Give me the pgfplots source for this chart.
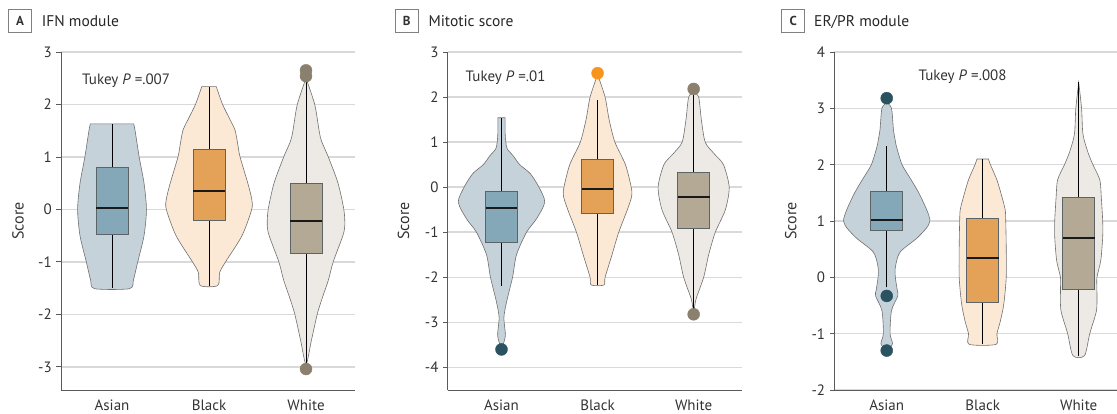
\documentclass[border=0pt]{standalone}
\usepackage{fontspec}
\setmainfont{PT Sans}
\usepackage{pgfplots}
\usepackage{pgfplotstable}
\pgfplotsset{compat=1.18}

\definecolor{gridgray}{HTML}{D9D9D9}
\definecolor{axisgray}{HTML}{5A5A5A}
\definecolor{textgray}{HTML}{333333}
\definecolor{vline}{HTML}{707070}
\definecolor{boxedge}{HTML}{5C6468}
\definecolor{asV}{HTML}{C6D2D9}
\definecolor{asB}{HTML}{84A8B8}
\definecolor{asO}{HTML}{2A5261}
\definecolor{blV}{HTML}{FBE9D5}
\definecolor{blB}{HTML}{E4A258}
\definecolor{blO}{HTML}{F7941E}
\definecolor{whV}{HTML}{EDEAE6}
\definecolor{whB}{HTML}{B4A995}
\definecolor{whO}{HTML}{8B7F6D}

% violin outlines: y, half-width w (axis units), side s (right side top->bottom, then left side bottom->top)
\pgfplotstableread{
y w s
1.63 0.224 1
1.5 0.238 1
1.0 0.28 1
0.5 0.33 1
0.0 0.355 1
-0.5 0.33 1
-1.0 0.265 1
-1.2 0.24 1
-1.35 0.22 1
-1.51 0.18 1
-1.51 0.18 -1
-1.35 0.22 -1
-1.2 0.24 -1
-1.0 0.265 -1
-0.5 0.33 -1
0.0 0.355 -1
0.5 0.33 -1
1.0 0.28 -1
1.5 0.238 -1
1.63 0.224 -1
}\vAa
\pgfplotstableread{
y w s
2.34 0.075 1
2.0 0.14 1
1.7 0.22 1
1.5 0.27 1
1.2 0.30 1
1.0 0.32 1
0.5 0.40 1
0.2 0.44 1
0.0 0.44 1
-0.5 0.34 1
-1.0 0.17 1
-1.2 0.11 1
-1.45 0.09 1
-1.45 0.09 -1
-1.2 0.11 -1
-1.0 0.17 -1
-0.5 0.34 -1
0.0 0.44 -1
0.2 0.44 -1
0.5 0.40 -1
1.0 0.32 -1
1.2 0.30 -1
1.5 0.27 -1
1.7 0.22 -1
2.0 0.14 -1
2.34 0.075 -1
}\vAb
\pgfplotstableread{
y w s
2.5 0.0 1
2.0 0.09 1
1.5 0.135 1
1.3 0.16 1
1.0 0.23 1
0.5 0.33 1
0.0 0.39 1
-0.3 0.40 1
-0.5 0.38 1
-1.0 0.28 1
-1.35 0.23 1
-1.7 0.165 1
-2.0 0.115 1
-2.5 0.055 1
-2.95 0.0 1
-2.5 0.055 -1
-2.0 0.115 -1
-1.7 0.165 -1
-1.35 0.23 -1
-1.0 0.28 -1
-0.5 0.38 -1
-0.3 0.40 -1
0.0 0.39 -1
0.5 0.33 -1
1.0 0.23 -1
1.3 0.16 -1
1.5 0.135 -1
2.0 0.09 -1
2.5 0.0 -1
}\vAw
\pgfplotstableread{
y w s
1.54 0.038 1
1.2 0.038 1
1.0 0.045 1
0.85 0.06 1
0.7 0.12 1
0.5 0.19 1
0.3 0.30 1
0.0 0.39 1
-0.33 0.45 1
-0.7 0.365 1
-1.0 0.26 1
-1.5 0.156 1
-2.0 0.115 1
-2.57 0.05 1
-2.9 0.025 1
-3.3 0.04 1
-3.55 0.0 1
-3.3 0.04 -1
-2.9 0.025 -1
-2.57 0.05 -1
-2.0 0.115 -1
-1.5 0.156 -1
-1.0 0.26 -1
-0.7 0.365 -1
-0.33 0.45 -1
0.0 0.39 -1
0.3 0.30 -1
0.5 0.19 -1
0.7 0.12 -1
0.85 0.06 -1
1.0 0.045 -1
1.2 0.038 -1
1.54 0.038 -1
}\vBa
\pgfplotstableread{
y w s
2.5 0.0 1
2.0 0.078 1
1.5 0.12 1
1.0 0.18 1
0.5 0.29 1
0.0 0.35 1
-0.2 0.355 1
-0.5 0.31 1
-1.0 0.22 1
-1.5 0.15 1
-2.0 0.078 1
-2.17 0.066 1
-2.17 0.066 -1
-2.0 0.078 -1
-1.5 0.15 -1
-1.0 0.22 -1
-0.5 0.31 -1
-0.2 0.355 -1
0.0 0.35 -1
0.5 0.29 -1
1.0 0.18 -1
1.5 0.12 -1
2.0 0.078 -1
2.5 0.0 -1
}\vBb
\pgfplotstableread{
y w s
2.1 0.0 1
2.0 0.052 1
1.5 0.08 1
1.0 0.12 1
0.75 0.21 1
0.5 0.31 1
0.0 0.37 1
-0.5 0.33 1
-1.0 0.225 1
-1.5 0.156 1
-2.0 0.104 1
-2.48 0.025 1
-2.75 0.0 1
-2.48 0.025 -1
-2.0 0.104 -1
-1.5 0.156 -1
-1.0 0.225 -1
-0.5 0.33 -1
0.0 0.37 -1
0.5 0.31 -1
0.75 0.21 -1
1.0 0.12 -1
1.5 0.08 -1
2.0 0.052 -1
2.1 0.0 -1
}\vBw
\pgfplotstableread{
y w s
3.1 0.0 1
3.0 0.05 1
2.62 0.07 1
2.45 0.087 1
2.33 0.10 1
2.0 0.16 1
1.73 0.255 1
1.43 0.355 1
1.0 0.45 1
0.72 0.33 1
0.45 0.14 1
0.18 0.09 1
0.0 0.09 1
-0.23 0.11 1
-0.33 0.116 1
-0.59 0.05 1
-1.0 0.035 1
-1.18 0.06 1
-1.3 0.0 1
-1.18 0.06 -1
-1.0 0.035 -1
-0.59 0.05 -1
-0.33 0.116 -1
-0.23 0.11 -1
0.0 0.09 -1
0.18 0.09 -1
0.45 0.14 -1
0.72 0.33 -1
1.0 0.45 -1
1.43 0.355 -1
1.73 0.255 -1
2.0 0.16 -1
2.33 0.10 -1
2.45 0.087 -1
2.62 0.07 -1
3.0 0.05 -1
3.1 0.0 -1
}\vCa
\pgfplotstableread{
y w s
2.10 0.06 1
2.0 0.08 1
1.73 0.148 1
1.43 0.20 1
1.2 0.234 1
1.0 0.24 1
0.54 0.245 1
0.0 0.245 1
-0.47 0.22 1
-0.77 0.185 1
-1.0 0.148 1
-1.19 0.14 1
-1.19 0.14 -1
-1.0 0.148 -1
-0.77 0.185 -1
-0.47 0.22 -1
0.0 0.245 -1
0.54 0.245 -1
1.0 0.24 -1
1.2 0.234 -1
1.43 0.20 -1
1.73 0.148 -1
2.0 0.08 -1
2.10 0.06 -1
}\vCb
\pgfplotstableread{
y w s
3.46 0.0 1
3.0 0.03 1
2.62 0.04 1
2.45 0.055 1
2.2 0.10 1
2.0 0.148 1
1.73 0.22 1
1.43 0.235 1
1.0 0.25 1
0.72 0.25 1
0.3 0.23 1
0.0 0.19 1
-0.23 0.19 1
-0.59 0.185 1
-1.0 0.115 1
-1.39 0.06 1
-1.39 0.06 -1
-1.0 0.115 -1
-0.59 0.185 -1
-0.23 0.19 -1
0.0 0.19 -1
0.3 0.23 -1
0.72 0.25 -1
1.0 0.25 -1
1.43 0.235 -1
1.73 0.22 -1
2.0 0.148 -1
2.2 0.10 -1
2.45 0.055 -1
2.62 0.04 -1
3.0 0.03 -1
3.46 0.0 -1
}\vCw

\newcommand{\violin}[3]{%
  \addplot[fill=#3, draw=vline, line width=0.6pt, smooth, tension=0.45]
    table[x expr=#1+\thisrow{s}*\thisrow{w}, y=y]{#2} -- cycle;
}
% #1 center, #2 left, #3 right, #4 fill, #5 lower whisker, #6 q1, #7 median, #8 q3, #9 upper whisker
\newcommand{\bx}[9]{%
  \addplot[black, line width=0.7pt] coordinates {(#1,#5) (#1,#9)};
  \addplot[fill=#4, draw=boxedge, line width=0.8pt] coordinates {(#2,#6) (#3,#6) (#3,#8) (#2,#8)} -- cycle;
  \addplot[black!90, line width=2.2pt] coordinates {(#2,#7) (#3,#7)};
}

\pgfplotsset{
  panel/.style={
    scale only axis, height=338pt, anchor=south west,
    axis lines*=left, axis line style={draw=axisgray, line width=0.9pt},
    ymajorgrids, major grid style={draw=gridgray, line width=1.6pt},
    xtick={0,1,2}, xticklabels={Asian,Black,White},
    xtick style={draw=none},
    tick align=outside, major tick length=4.5pt,
    ytick style={draw=axisgray, line width=0.9pt},
    tick label style={font=\fontsize{15}{18}\selectfont, text=textgray},
    yticklabel style={anchor=east, inner sep=0pt, xshift=-4.5pt},
    xticklabel style={anchor=base, inner sep=0pt, yshift=-16pt},
    ylabel=Score, ylabel style={font=\fontsize{16}{19}\selectfont, text=textgray, anchor=center},
    enlargelimits=false,
  },
  outl/.style={only marks, mark=*, mark size=6pt, mark options={fill=#1, draw=#1}},
}

\newcommand{\tnode}[4]{%
  \node[draw=gray, line width=0.8pt, minimum width=23pt, minimum height=23pt, inner sep=0pt,
        font=\bfseries\fontsize{13}{15}\selectfont, text=textgray] at (#1pt,392.7pt) {#2};
  \node[anchor=base west, inner sep=0pt, font=\fontsize{15.5}{18}\selectfont, text=black!85] at (#3pt,387.3pt) {#4};
}

\begin{document}
\begin{tikzpicture}
\path[use as bounding box] (0,0) rectangle (1117pt,414pt);

\tnode{20}{A}{41.7}{IFN module}
\tnode{406.7}{B}{428.3}{Mitotic score}
\tnode{793.3}{C}{814}{ER/PR module}

% ---------------- A ----------------
\begin{axis}[panel, at={(61pt,24pt)}, width=294pt,
  xmin=-0.526, xmax=2.505, ymin=-3.44, ymax=3,
  ytick={-3,-2,-1,0,1,2,3}, yticklabels={-3,-2,-1,0,1,2,3},
  ylabel style={at={(axis description cs:-0.146,0.5)}}]
  \violin{0}{\vAa}{asV}
  \violin{1}{\vAb}{blV}
  \violin{2}{\vAw}{whV}
  \bx{0}{-0.165}{0.165}{asB}{-1.5}{-0.47}{0.03}{0.80}{1.63}
  \bx{1}{0.835}{1.165}{blB}{-1.45}{-0.21}{0.35}{1.14}{2.34}
  \bx{2}{1.835}{2.165}{whB}{-2.95}{-0.83}{-0.22}{0.49}{2.5}
  \addplot[outl=whO] coordinates {(2,2.54) (2,2.65) (2,-3.04)};
  \node[anchor=base west, inner sep=0pt, font=\fontsize{15}{18}\selectfont, text=textgray]
    at (axis cs:-0.31,2.39) {Tukey \textit{P} =.007};
\end{axis}

% ---------------- B ----------------
\begin{axis}[panel, at={(447.7pt,24pt)}, width=294pt,
  xmin=-0.56, xmax=2.5, ymin=-4.5, ymax=3,
  ytick={-4,-3,-2,-1,0,1,2,3}, yticklabels={-4,-3,-2,-1,0,1,2,3},
  ylabel style={at={(axis description cs:-0.150,0.5)}}]
  \violin{0}{\vBa}{asV}
  \violin{1}{\vBb}{blV}
  \violin{2}{\vBw}{whV}
  \bx{0}{-0.165}{0.165}{asB}{-2.19}{-1.23}{-0.46}{-0.10}{1.54}
  \bx{1}{0.835}{1.165}{blB}{-2.17}{-0.58}{-0.04}{0.62}{1.94}
  \bx{2}{1.835}{2.165}{whB}{-2.72}{-0.91}{-0.22}{0.325}{2.1}
  \addplot[outl=asO] coordinates {(0,-3.6)};
  \addplot[outl=blO] coordinates {(1,2.53)};
  \addplot[outl=whO] coordinates {(2,2.18) (2,-2.82)};
  \node[anchor=base west, inner sep=0pt, font=\fontsize{15}{18}\selectfont, text=textgray]
    at (axis cs:-0.375,2.34) {Tukey \textit{P} =.01};
\end{axis}

% ---------------- C ----------------
\begin{axis}[panel, at={(834.3pt,24pt)}, width=282.7pt,
  xmin=-0.546, xmax=2.399, ymin=-2, ymax=4,
  ytick={-2,-1,0,1,2,3,4}, yticklabels={-2,-1,0,1,2,3,4},
  ylabel style={at={(axis description cs:-0.154,0.5)}}]
  \violin{0}{\vCa}{asV}
  \violin{1}{\vCb}{blV}
  \violin{2}{\vCw}{whV}
  \bx{0}{-0.165}{0.165}{asB}{-0.18}{0.84}{1.02}{1.53}{2.33}
  \bx{1}{0.835}{1.165}{blB}{-1.19}{-0.44}{0.345}{1.05}{2.10}
  \bx{2}{1.835}{2.165}{whB}{-1.39}{-0.21}{0.70}{1.42}{3.46}
  \addplot[outl=asO] coordinates {(0,3.18) (0,-0.33) (0,-1.30)};
  \node[anchor=base west, inner sep=0pt, font=\fontsize{15}{18}\selectfont, text=textgray]
    at (axis cs:0.33,3.50) {Tukey \textit{P} =.008};
\end{axis}
\end{tikzpicture}
\end{document}
